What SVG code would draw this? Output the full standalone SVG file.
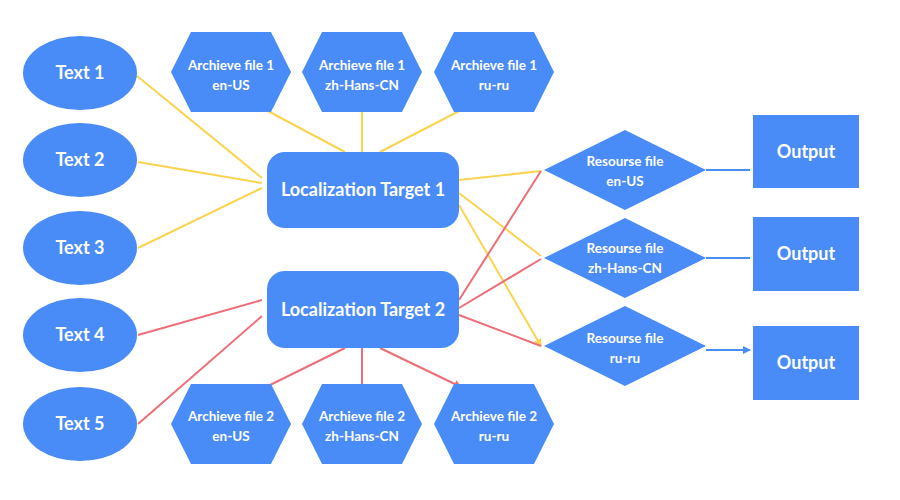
<svg xmlns="http://www.w3.org/2000/svg" width="900" height="500" viewBox="0 0 900 500">
<style>
.n{fill:#4a8cf7}
text{fill:#fff;font-family:Lato,"Open Sans",sans-serif;font-weight:bold;text-anchor:middle}
.l{font-size:18px}.s{font-size:13.5px}
.y{stroke:#fcd34f;stroke-width:2;fill:none;marker-end:url(#my)}
.r{stroke:#ee6e78;stroke-width:2;fill:none;marker-end:url(#mr)}
.b{stroke:#4a8cf7;stroke-width:2;fill:none;marker-end:url(#mb)}
</style>
<defs>
<marker id="my" markerWidth="8" markerHeight="8" refX="7" refY="4" orient="auto" markerUnits="userSpaceOnUse"><path d="M0,0L8,4L0,8z" fill="#fcd34f"/></marker>
<marker id="mr" markerWidth="8" markerHeight="8" refX="7" refY="4" orient="auto" markerUnits="userSpaceOnUse"><path d="M0,0L8,4L0,8z" fill="#ee6e78"/></marker>
<marker id="mb" markerWidth="8" markerHeight="8" refX="7" refY="4" orient="auto" markerUnits="userSpaceOnUse"><path d="M0,0L8,4L0,8z" fill="#4a8cf7"/></marker>
</defs>
<g id="connectors">
<path class="y" d="M137,76L262,178M138,162L262,183M138,248L262,188M345,152L266,110M362,152L362,110M380,152L461,110M459,180L541,171M459,193L541,256M459,205L541,346"/>
<path class="r" d="M138,335L262,300M138,424L262,316M459,300L541,171M459,308L541,259M459,315L541,346M345,348L266,387M362,348L362,387M380,348L461,387"/>
<path class="b" d="M706,170L750,170M706,258L750,258M706,350L750,350"/>
</g>
<g id="text1"><ellipse class="n" cx="80" cy="73" rx="57" ry="37"/><text class="l" x="80" y="79">Text 1</text></g>
<g id="text2"><ellipse class="n" cx="80" cy="160" rx="57" ry="37"/><text class="l" x="80" y="166">Text 2</text></g>
<g id="text3"><ellipse class="n" cx="80" cy="248" rx="57" ry="37"/><text class="l" x="80" y="254">Text 3</text></g>
<g id="text4"><ellipse class="n" cx="80" cy="335" rx="57" ry="37"/><text class="l" x="80" y="341">Text 4</text></g>
<g id="text5"><ellipse class="n" cx="80" cy="424" rx="57" ry="37"/><text class="l" x="80" y="430">Text 5</text></g>
<g id="a1en"><polygon class="n" points="171,72 191,32 271,32 291,72 271,112 191,112"/><text class="s" x="231" y="70">Archieve file 1</text><text class="s" x="231" y="90">en-US</text></g>
<g id="a1zh"><polygon class="n" points="302,72 322,32 402,32 422,72 402,112 322,112"/><text class="s" x="362" y="70">Archieve file 1</text><text class="s" x="362" y="90">zh-Hans-CN</text></g>
<g id="a1ru"><polygon class="n" points="434,72 454,32 534,32 554,72 534,112 454,112"/><text class="s" x="494" y="70">Archieve file 1</text><text class="s" x="494" y="90">ru-ru</text></g>
<g id="a2en"><polygon class="n" points="171,424 191,384 271,384 291,424 271,464 191,464"/><text class="s" x="231" y="421">Archieve file 2</text><text class="s" x="231" y="441">en-US</text></g>
<g id="a2zh"><polygon class="n" points="302,424 322,384 402,384 422,424 402,464 322,464"/><text class="s" x="362" y="421">Archieve file 2</text><text class="s" x="362" y="441">zh-Hans-CN</text></g>
<g id="a2ru"><polygon class="n" points="434,424 454,384 534,384 554,424 534,464 454,464"/><text class="s" x="494" y="421">Archieve file 2</text><text class="s" x="494" y="441">ru-ru</text></g>
<g id="lt1"><rect class="n" x="267" y="152" width="192" height="76" rx="18"/><text class="l" x="363" y="196">Localization Target 1</text></g>
<g id="lt2"><rect class="n" x="267" y="271" width="192" height="77" rx="18"/><text class="l" x="363" y="316">Localization Target 2</text></g>
<g id="r1"><polygon class="n" points="544,170 625,130 706,170 625,210"/><text class="s" x="625" y="166">Resourse file</text><text class="s" x="625" y="186">en-US</text></g>
<g id="r2"><polygon class="n" points="544,258 625,218 706,258 625,298"/><text class="s" x="625" y="253">Resourse file</text><text class="s" x="625" y="273">zh-Hans-CN</text></g>
<g id="r3"><polygon class="n" points="544,346 625,306 706,346 625,386"/><text class="s" x="625" y="343">Resourse file</text><text class="s" x="625" y="363">ru-ru</text></g>
<g id="o1"><rect class="n" x="753" y="115" width="106" height="73"/><text class="l" x="806" y="158">Output</text></g>
<g id="o2"><rect class="n" x="753" y="217" width="106" height="74"/><text class="l" x="806" y="260">Output</text></g>
<g id="o3"><rect class="n" x="753" y="326" width="106" height="74"/><text class="l" x="806" y="369">Output</text></g>
</svg>
